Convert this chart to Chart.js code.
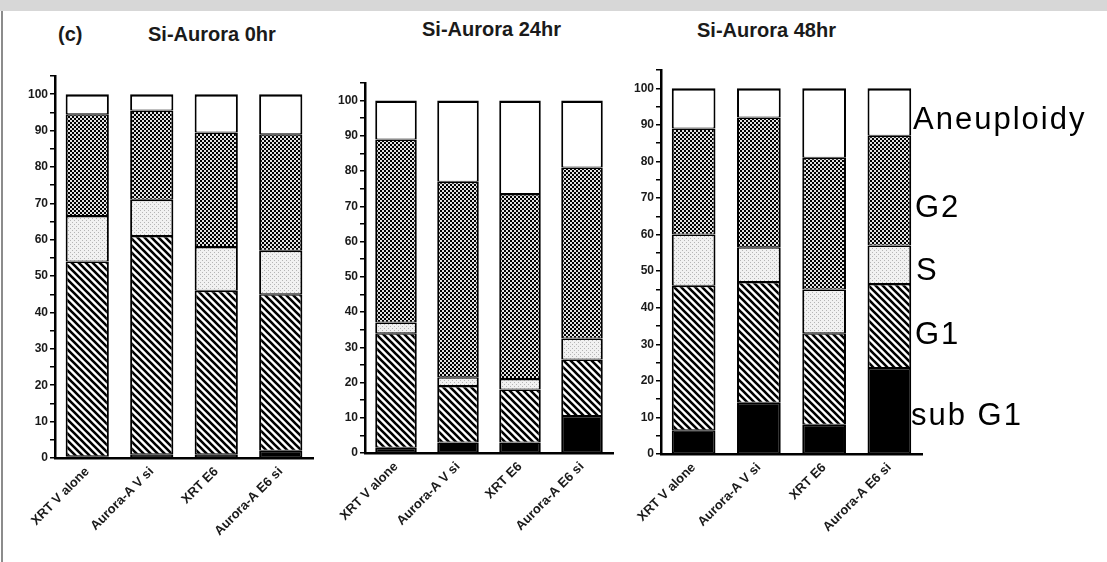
<!DOCTYPE html>
<html>
<head>
<meta charset="utf-8">
<script src="https://cdn.jsdelivr.net/npm/chart.js@4.4.0/dist/chart.umd.min.js"></script>
<style>
  body { margin: 0; width: 1107px; height: 562px; position: relative; overflow: hidden; background: #fff;
         font-family: "Liberation Sans", Arial, sans-serif; }
  #band { position: absolute; left: 0; top: 0; width: 1107px; height: 11px; background: #d7d7d7; }
  #edge { position: absolute; left: 1px; top: 11px; width: 2px; height: 551px; background: #8c8c8c; }
  canvas { position: absolute; }
  .title { position: absolute; font-weight: bold; font-size: 20px; line-height: 20px; white-space: nowrap; color: #1a1a1a; }
  .phase { position: absolute; font-size: 31px; line-height: 31px; letter-spacing: 2px; white-space: nowrap; color: #000; z-index: 2; }
</style>
</head>
<body>
<div id="band"></div>
<div id="edge"></div>
<div class="title" style="left:58px;top:24px">(c)</div>
<div class="title" id="t0" style="left:148px;top:24px"></div>
<div class="title" id="t1" style="left:422px;top:19px"></div>
<div class="title" id="t2" style="left:697px;top:20px"></div>
<canvas id="c0" width="310" height="522" style="left:10px;top:40px"></canvas>
<canvas id="c1" width="300" height="522" style="left:320px;top:40px"></canvas>
<canvas id="c2" width="313" height="522" style="left:616px;top:40px"></canvas>
<div class="phase" id="p4" style="left:913px;top:103px"></div>
<div class="phase" id="p3" style="left:915px;top:191px"></div>
<div class="phase" id="p2" style="left:916px;top:254px"></div>
<div class="phase" id="p1" style="left:915px;top:318px"></div>
<div class="phase" id="p0" style="left:911px;top:399px"></div>
<script>
const categories = ['XRT V alone', 'Aurora-A V si', 'XRT E6', 'Aurora-A E6 si'];
const phases = ['sub G1', 'G1', 'S', 'G2', 'Aneuploidy'];
const panelTitles = ['Si-Aurora 0hr', 'Si-Aurora 24hr', 'Si-Aurora 48hr'];

// percent of cells in each phase (segment heights, bottom to top)
const subG1_0h = [0.5, 1, 1, 2];
const g1_0h    = [53.5, 60, 45, 43];
const s_0h     = [12.5, 10, 12, 12];
const g2_0h    = [28, 24.5, 31.5, 32];
const aneu_0h  = [5.5, 4.5, 10.5, 11];

const subG1_24h = [1.5, 3, 3, 10.5];
const g1_24h    = [32.5, 16, 15, 16];
const s_24h     = [3, 2.5, 3, 6];
const g2_24h    = [52, 55.5, 52.5, 48.5];
const aneu_24h  = [11, 23, 26.5, 19];

const subG1_48h = [6.5, 14, 8, 23.5];
const g1_48h    = [39.5, 33, 25, 23];
const s_48h     = [14, 9.5, 12, 10.5];
const g2_48h    = [29, 35.5, 36, 30];
const aneu_48h  = [11, 8, 19, 13];

const yMax = 105;
const yStep = 5;

const font = '"Liberation Sans", Arial, sans-serif';

function tile(size, draw) {
  const c = document.createElement('canvas');
  c.width = size; c.height = size;
  const g = c.getContext('2d');
  draw(g, size);
  return g.createPattern(c, 'repeat');
}

const hatch = tile(7, (g, s) => {
  g.fillStyle = '#fff'; g.fillRect(0, 0, s, s);
  g.strokeStyle = '#000'; g.lineWidth = 2.6; g.lineCap = 'square';
  g.beginPath();
  g.moveTo(-1, -1); g.lineTo(s + 1, s + 1);
  g.moveTo(-1, s - 1); g.lineTo(1, s + 1);
  g.moveTo(s - 1, -1); g.lineTo(s + 1, 1);
  g.stroke();
});
const dots = tile(4, (g, s) => {
  g.fillStyle = '#f1f1f1'; g.fillRect(0, 0, s, s);
  g.fillStyle = '#b5b5b5'; g.fillRect(0, 0, 1, 1); g.fillRect(2, 2, 1, 1);
});
const checks = tile(4, (g, s) => {
  g.fillStyle = '#000'; g.fillRect(0, 0, s, s);
  g.fillStyle = '#e2e2e2'; g.fillRect(0, 0, 2, 2); g.fillRect(2, 2, 2, 2);
});
const fills = ['#000', hatch, dots, checks, '#fff'];

const panels = [
  { id: 'c0', data: [subG1_0h, g1_0h, s_0h, g2_0h, aneu_0h], yw: 45, top: 36, right: 7, xh: 104 },
  { id: 'c1', data: [subG1_24h, g1_24h, s_24h, g2_24h, aneu_24h], yw: 45, top: 43, right: 7, xh: 109 },
  { id: 'c2', data: [subG1_48h, g1_48h, s_48h, g2_48h, aneu_48h], yw: 45, top: 30, right: 7, xh: 108 },
];

panelTitles.forEach((t, i) => { document.getElementById('t' + i).textContent = t; });
phases.forEach((p, i) => { document.getElementById('p' + i).textContent = p; });

panels.forEach(p => {
  new Chart(document.getElementById(p.id), {
    type: 'bar',
    data: {
      labels: categories,
      datasets: phases.map((name, i) => ({
        label: name,
        data: p.data[i],
        backgroundColor: fills[i],
        borderColor: '#000',
        borderWidth: { left: 2, right: 2, bottom: 1, top: i === phases.length - 1 ? 2.5 : 1.5 },
        borderSkipped: false,
        barPercentage: 0.67,
        categoryPercentage: 1,
      })),
    },
    options: {
      responsive: false,
      animation: false,
      layout: { padding: { top: p.top, right: p.right, left: 0, bottom: 0 } },
      plugins: { legend: { display: false }, tooltip: { enabled: false } },
      scales: {
        x: {
          stacked: true,
          grid: { display: false, drawTicks: false },
          border: { display: true, color: '#000', width: 2.5 },
          ticks: {
            autoSkip: false, minRotation: 45, maxRotation: 45, padding: 6,
            color: '#1a1a1a', font: { family: font, size: 13, weight: 'bold' },
          },
          afterFit: (s) => { s.height = p.xh; },
        },
        y: {
          stacked: true,
          min: 0,
          max: yMax,
          grid: { display: true, drawOnChartArea: false, drawTicks: true, tickLength: 5, color: '#000', lineWidth: 1.5 },
          border: { display: true, color: '#000', width: 2.5 },
          ticks: {
            stepSize: yStep, autoSkip: false, padding: 2,
            color: '#1a1a1a', font: { family: font, size: 12, weight: 'bold' },
            callback: (v) => (v % 10 === 0 && v <= 100 ? v : ''),
          },
          afterFit: (s) => { s.width = p.yw; },
        },
      },
    },
  });
});
</script>
</body>
</html>
